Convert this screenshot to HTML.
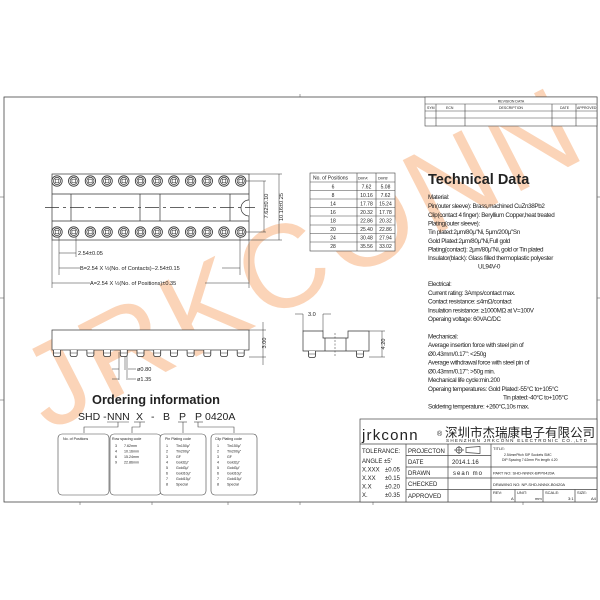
<!DOCTYPE html>
<html><head><meta charset="utf-8"><style>
html,body{margin:0;padding:0;background:#fff}
svg{display:block}
text{font-family:"Liberation Sans","Noto Sans CJK SC",sans-serif;fill:#222}
</style></head><body>
<svg width="600" height="600" viewBox="0 0 600 600" xmlns="http://www.w3.org/2000/svg">
<defs>
<g id="pin"><circle r="5.2" fill="#fff" stroke="#333" stroke-width="0.8"/><circle r="3.6" fill="none" stroke="#333" stroke-width="0.7"/><rect x="-1.8" y="-1.8" width="3.6" height="3.6" fill="none" stroke="#333" stroke-width="0.6"/></g>
<g id="leg"><path d="M-3.5 0 V4.5 Q-3.5 6.5 -1.5 6.5 H1.5 Q3.5 6.5 3.5 4.5 V0" fill="#fff" stroke="#333" stroke-width="0.8"/><line x1="-3.5" y1="3" x2="3.5" y2="3" stroke="#333" stroke-width="0.5"/></g>
</defs>
<!-- watermark -->
<text transform="translate(48,432) rotate(-27)" font-size="118" letter-spacing="6" style="fill:#fbd4b8">JRKCONN</text>
<!-- frame -->
<rect x="4" y="97" width="593" height="405" fill="none" stroke="#444" stroke-width="0.8"/>
<g stroke="#666" stroke-width="0.6">
<line x1="300" y1="94" x2="300" y2="97"/><line x1="80" y1="502" x2="80" y2="505"/><line x1="152" y1="502" x2="152" y2="505"/><line x1="228" y1="502" x2="228" y2="505"/><line x1="300" y1="502" x2="300" y2="505"/><line x1="373" y1="502" x2="373" y2="505"/><line x1="523" y1="502" x2="523" y2="505"/>
<line x1="0" y1="197" x2="4" y2="197"/><line x1="0" y1="298" x2="4" y2="298"/><line x1="0" y1="400" x2="4" y2="400"/><line x1="597" y1="197" x2="600" y2="197"/><line x1="597" y1="298" x2="600" y2="298"/><line x1="597" y1="400" x2="600" y2="400"/>
</g>
<!-- revision block -->
<g stroke="#444" stroke-width="0.6" fill="none">
<rect x="425" y="97" width="172" height="29" fill="#fff"/>
<line x1="425" y1="104" x2="597" y2="104"/><line x1="425" y1="111" x2="597" y2="111"/><line x1="425" y1="118" x2="597" y2="118"/>
<line x1="436" y1="104" x2="436" y2="126"/><line x1="465" y1="104" x2="465" y2="126"/><line x1="552" y1="104" x2="552" y2="126"/><line x1="576" y1="104" x2="576" y2="126"/>
</g>
<g font-size="3.5">
<text x="511" y="102.5" text-anchor="middle">REVISION  DATA</text>
<text x="427" y="109">SYM</text><text x="446" y="109">ECN</text><text x="511" y="109" text-anchor="middle">DESCRIPTION</text><text x="560" y="109">DATE</text><text x="577" y="109">APPROVED</text>
</g>
<!-- top view -->
<g stroke="#333" stroke-width="0.7" fill="none">
<rect x="52" y="174" width="197" height="66" fill="#fff"/>
<line x1="52" y1="194" x2="249" y2="194"/><line x1="52" y1="221" x2="249" y2="221"/>
<line x1="71" y1="194" x2="71" y2="221"/><line x1="140" y1="194" x2="140" y2="221"/><line x1="160" y1="194" x2="160" y2="221"/><line x1="230" y1="194" x2="230" y2="221"/>
<path d="M249 200 A8 8 0 0 0 249 216" fill="#fff"/>
<line x1="45" y1="207.5" x2="255" y2="207.5" stroke-dasharray="14 4 3 4"/>
<line x1="249" y1="174" x2="282" y2="174" stroke-width="0.5"/><line x1="249" y1="240" x2="282" y2="240" stroke-width="0.5"/>
<line x1="245" y1="181" x2="266" y2="181" stroke-width="0.5"/><line x1="245" y1="232" x2="266" y2="232" stroke-width="0.5"/>
<line x1="264" y1="181" x2="264" y2="232" stroke-width="0.5"/><line x1="279" y1="174" x2="279" y2="240" stroke-width="0.5"/>
<line x1="59" y1="232" x2="59" y2="275" stroke-width="0.5"/><line x1="76" y1="232" x2="76" y2="257" stroke-width="0.5"/><line x1="240" y1="232" x2="240" y2="275" stroke-width="0.5"/>
<line x1="52" y1="240" x2="52" y2="288" stroke-width="0.5"/><line x1="249" y1="240" x2="249" y2="288" stroke-width="0.5"/>
<line x1="59" y1="253" x2="76" y2="253" stroke-width="0.5"/>
<line x1="59" y1="268" x2="80" y2="268" stroke-width="0.5"/><line x1="222" y1="268" x2="240" y2="268" stroke-width="0.5"/>
<line x1="52" y1="283" x2="90" y2="283" stroke-width="0.5"/><line x1="205" y1="283" x2="249" y2="283" stroke-width="0.5"/>
</g>
<g>
<use href="#pin" x="57" y="181"/><use href="#pin" x="73.7" y="181"/><use href="#pin" x="90.4" y="181"/><use href="#pin" x="107.1" y="181"/><use href="#pin" x="123.8" y="181"/><use href="#pin" x="140.5" y="181"/><use href="#pin" x="157.2" y="181"/><use href="#pin" x="173.9" y="181"/><use href="#pin" x="190.6" y="181"/><use href="#pin" x="207.3" y="181"/><use href="#pin" x="224" y="181"/><use href="#pin" x="240.7" y="181"/>
<use href="#pin" x="57" y="232"/><use href="#pin" x="73.7" y="232"/><use href="#pin" x="90.4" y="232"/><use href="#pin" x="107.1" y="232"/><use href="#pin" x="123.8" y="232"/><use href="#pin" x="140.5" y="232"/><use href="#pin" x="157.2" y="232"/><use href="#pin" x="173.9" y="232"/><use href="#pin" x="190.6" y="232"/><use href="#pin" x="207.3" y="232"/><use href="#pin" x="224" y="232"/><use href="#pin" x="240.7" y="232"/>
</g>
<g font-size="5.6" font-family="Liberation Sans">
<text x="78" y="255">2.54±0.05</text>
<text x="80" y="270">B=2.54  X  ½(No.  of  Contacts)−2.54±0.15</text>
<text x="90" y="285">A=2.54  X  ½(No.  of  Positions)±0.35</text>
<text transform="translate(268,206) rotate(-90)" text-anchor="middle">7.62±0.10</text>
<text transform="translate(283,207) rotate(-90)" text-anchor="middle">10.16±0.25</text>
</g>
<!-- dim table -->
<g stroke="#444" stroke-width="0.6" fill="none">
<rect x="310" y="173" width="85" height="78" fill="#fff"/>
<line x1="357" y1="173" x2="357" y2="251"/><line x1="376" y1="173" x2="376" y2="251"/>
<line x1="310" y1="182" x2="395" y2="182"/><line x1="310" y1="190.5" x2="395" y2="190.5"/><line x1="310" y1="199" x2="395" y2="199"/><line x1="310" y1="207.5" x2="395" y2="207.5"/><line x1="310" y1="216" x2="395" y2="216"/><line x1="310" y1="225" x2="395" y2="225"/><line x1="310" y1="233.5" x2="395" y2="233.5"/><line x1="310" y1="242" x2="395" y2="242"/>
</g>
<g font-size="5">
<text x="313" y="179.5">No. of Positions</text><text x="358" y="179.5" font-size="3.5">DIM'A'</text><text x="378" y="179.5" font-size="3.5">DIM'B'</text>
<g text-anchor="middle">
<text x="333" y="188.5">6</text><text x="366.5" y="188.5">7.62</text><text x="385.5" y="188.5">5.08</text>
<text x="333" y="197">8</text><text x="366.5" y="197">10.16</text><text x="385.5" y="197">7.62</text>
<text x="333" y="205.5">14</text><text x="366.5" y="205.5">17.78</text><text x="385.5" y="205.5">15.24</text>
<text x="333" y="214">16</text><text x="366.5" y="214">20.32</text><text x="385.5" y="214">17.78</text>
<text x="333" y="222.5">18</text><text x="366.5" y="222.5">22.86</text><text x="385.5" y="222.5">20.32</text>
<text x="333" y="231">20</text><text x="366.5" y="231">25.40</text><text x="385.5" y="231">22.86</text>
<text x="333" y="239.5">24</text><text x="366.5" y="239.5">30.48</text><text x="385.5" y="239.5">27.94</text>
<text x="333" y="248">28</text><text x="366.5" y="248">35.56</text><text x="385.5" y="248">33.02</text>
</g></g>
<!-- technical data -->
<text x="428" y="184" font-size="14.5" font-weight="bold" fill="#111">Technical Data</text>
<g font-size="6.3" letter-spacing="-0.35">
<text x="428" y="199">Material:</text>
<text x="428" y="208">Pin(outer sleeve): Brass,machined CuZn38Pb2</text>
<text x="428" y="217">Clip(contact 4 finger): Beryllium Copper,heat treated</text>
<text x="428" y="225.5">Plating(outer sleeve):</text>
<text x="428" y="234">Tin plated:2μm/80μ"Ni, 5μm/200μ"Sn</text>
<text x="428" y="243">Gold Plated:2μm/80μ"Ni,Full gold</text>
<text x="428" y="251.5">Plating(contact): 2μm/80μ"Ni, gold or Tin plated</text>
<text x="428" y="260">Insulator(black): Glass filled thermoplastic polyester</text>
<text x="478" y="268.5">UL94V-0</text>
<text x="428" y="286">Electrical:</text>
<text x="428" y="295">Current rating: 3Amps/contact max.</text>
<text x="428" y="303.5">Contact resistance: ≤4mΩ/contact</text>
<text x="428" y="312.5">Insulation resistance: ≥1000MΩ at V=100V</text>
<text x="428" y="321">Operaing voltage: 60VAC/DC</text>
<text x="428" y="338.5">Mechanical:</text>
<text x="428" y="347">Average insertion force with steel pin of</text>
<text x="428" y="356">Ø0.43mm/0.17": &lt;250g</text>
<text x="428" y="364.5">Average withdrawal force with steel pin of</text>
<text x="428" y="373.5">Ø0.43mm/0.17": &gt;50g min.</text>
<text x="428" y="382">Mechanical life cycle:min.200</text>
<text x="428" y="391">Operaing temperatures: Gold Plated:-55°C to+105°C</text>
<text x="503" y="399.5">Tin plated:-40°C to+105°C</text>
<text x="428" y="408.5">Soldering temperature: +260°C,10s max.</text>
</g>
<!-- side view -->
<g stroke="#333" stroke-width="0.7" fill="none">
<rect x="52" y="330" width="197" height="20" fill="#fff"/>
<line x1="249" y1="330" x2="266" y2="330" stroke-width="0.5"/><line x1="249" y1="357" x2="266" y2="357" stroke-width="0.5"/>
<line x1="263" y1="322" x2="263" y2="365" stroke-width="0.5"/>
<line x1="119" y1="352" x2="119" y2="380" stroke-width="0.5"/><line x1="125" y1="352" x2="125" y2="370" stroke-width="0.5"/><line x1="127" y1="352" x2="127" y2="380" stroke-width="0.5"/>
<line x1="112" y1="369" x2="119" y2="369" stroke-width="0.5"/><line x1="128" y1="369" x2="136" y2="369" stroke-width="0.5"/>
<line x1="112" y1="379" x2="119" y2="379" stroke-width="0.5"/><line x1="128" y1="379" x2="136" y2="379" stroke-width="0.5"/>
</g>
<g>
<use href="#leg" x="57" y="350"/><use href="#leg" x="73.7" y="350"/><use href="#leg" x="90.4" y="350"/><use href="#leg" x="107.1" y="350"/><use href="#leg" x="123.8" y="350"/><use href="#leg" x="140.5" y="350"/><use href="#leg" x="157.2" y="350"/><use href="#leg" x="173.9" y="350"/><use href="#leg" x="190.6" y="350"/><use href="#leg" x="207.3" y="350"/><use href="#leg" x="224" y="350"/><use href="#leg" x="240.7" y="350"/>
</g>
<g font-size="5.6">
<text transform="translate(266,343) rotate(-90)" text-anchor="middle">3.00</text>
<text x="137" y="371">ø0.80</text>
<text x="137" y="381">ø1.35</text>
</g>
<!-- end view -->
<g stroke="#333" stroke-width="0.7" fill="none">
<path d="M303 331 H323 V338 H348 V331 H369 V351 H303 Z" fill="#fff"/>
<line x1="325" y1="338" x2="325" y2="351"/><line x1="346" y1="338" x2="346" y2="351"/>
<line x1="335" y1="333" x2="335" y2="357" stroke-dasharray="2 1.5" stroke-width="0.5"/>
<line x1="303" y1="314" x2="303" y2="331" stroke-width="0.5"/><line x1="323" y1="314" x2="323" y2="331" stroke-width="0.5"/>
<line x1="295" y1="314" x2="303" y2="314" stroke-width="0.5"/><line x1="323" y1="314" x2="331" y2="314" stroke-width="0.5"/>
<line x1="369" y1="331" x2="385" y2="331" stroke-width="0.5"/><line x1="369" y1="357" x2="385" y2="357" stroke-width="0.5"/>
<line x1="382" y1="331" x2="382" y2="357" stroke-width="0.5"/>
</g>
<use href="#leg" x="312" y="351"/><use href="#leg" x="360" y="351"/>
<g font-size="5.6">
<text x="308" y="316">3.0</text>
<text transform="translate(385,344) rotate(-90)" text-anchor="middle">4.20</text>
</g>
<!-- ordering -->
<text x="92" y="404" font-size="12.8" font-weight="bold" fill="#111">Ordering information</text>
<g font-size="10.5">
<text x="78" y="420">SHD -</text><text x="107" y="420">NNN</text><text x="136" y="420">X</text><text x="151" y="420">-</text><text x="163" y="420">B</text><text x="179" y="420">P</text><text x="195" y="420">P</text><text x="205" y="420">0420A</text>
</g>
<g stroke="#444" stroke-width="0.6" fill="none">
<line x1="107" y1="422" x2="129" y2="422"/><line x1="134" y1="422" x2="145" y2="422"/><line x1="178" y1="422" x2="187" y2="422"/><line x1="194" y1="422" x2="203" y2="422"/>
<path d="M118 422 V427 H84 V433"/><path d="M140 422 V427 H132 V433"/><path d="M183 422 V433"/><path d="M198 422 V427 H234 V433"/>
<rect x="58" y="434" width="51" height="61" rx="4" fill="#fff"/><rect x="110" y="434" width="51" height="61" rx="4" fill="#fff"/><rect x="160" y="434" width="46" height="61" rx="4" fill="#fff"/><rect x="211" y="434" width="46" height="61" rx="4" fill="#fff"/>
</g>
<g font-size="3.6">
<text x="63" y="440">No. of Positions</text>
<text x="112" y="440">Row spacing code</text>
<text x="115" y="447">3</text><text x="124" y="447">7.62mm</text>
<text x="115" y="452.5">4</text><text x="124" y="452.5">10.16mm</text>
<text x="115" y="458">6</text><text x="124" y="458">15.24mm</text>
<text x="115" y="463.5">9</text><text x="124" y="463.5">22.86mm</text>
<text x="165" y="440">Pin Plating code</text>
<text x="215" y="440">Clip Plating code</text>
<g>
<text x="166" y="447">1</text><text x="176" y="447">Tin150μ"</text>
<text x="166" y="452.5">2</text><text x="176" y="452.5">Tin200μ"</text>
<text x="166" y="458">3</text><text x="176" y="458">GF</text>
<text x="166" y="463.5">4</text><text x="176" y="463.5">Gold2μ"</text>
<text x="166" y="469">5</text><text x="176" y="469">Gold3μ"</text>
<text x="166" y="474.5">6</text><text x="176" y="474.5">Gold10μ"</text>
<text x="166" y="480">7</text><text x="176" y="480">Gold15μ"</text>
<text x="166" y="485.5">8</text><text x="176" y="485.5">Special</text>
<text x="217" y="447">1</text><text x="227" y="447">Tin150μ"</text>
<text x="217" y="452.5">2</text><text x="227" y="452.5">Tin200μ"</text>
<text x="217" y="458">3</text><text x="227" y="458">GF</text>
<text x="217" y="463.5">4</text><text x="227" y="463.5">Gold2μ"</text>
<text x="217" y="469">5</text><text x="227" y="469">Gold3μ"</text>
<text x="217" y="474.5">6</text><text x="227" y="474.5">Gold10μ"</text>
<text x="217" y="480">7</text><text x="227" y="480">Gold15μ"</text>
<text x="217" y="485.5">8</text><text x="227" y="485.5">Special</text>
</g></g>
<!-- title block -->
<g stroke="#444" stroke-width="0.7" fill="none">
<rect x="360" y="419" width="237" height="83" fill="#fff"/>
<line x1="360" y1="444" x2="597" y2="444"/>
<line x1="406" y1="455.5" x2="491" y2="455.5"/><line x1="406" y1="467" x2="597" y2="467"/><line x1="406" y1="478" x2="597" y2="478"/><line x1="406" y1="489.5" x2="597" y2="489.5"/>
<line x1="406" y1="444" x2="406" y2="502"/><line x1="448" y1="444" x2="448" y2="502"/><line x1="491" y1="444" x2="491" y2="502"/>
<line x1="515" y1="489.5" x2="515" y2="502"/><line x1="543" y1="489.5" x2="543" y2="502"/><line x1="575" y1="489.5" x2="575" y2="502"/>
<circle cx="459" cy="450" r="3"/><line x1="454" y1="450" x2="464" y2="450"/><line x1="459" y1="446" x2="459" y2="454"/><path d="M466 447.5 L480 446.5 V453.5 L466 452.5 Z"/>
</g>
<text x="362" y="440" font-size="15" letter-spacing="1.2" fill="#222">jrkconn</text>
<text x="437" y="436" font-size="7" fill="#222">®</text>
<text x="445" y="437" font-size="12.5" font-family="'Noto Serif CJK SC','Noto Sans CJK SC',serif" fill="#444">深圳市杰瑞康电子有限公司</text>
<text x="446" y="442" font-size="4.6" font-family="'Liberation Serif',serif" fill="#444" textLength="141">SHENZHEN JRKCONN ELECTRONIC CO.,LTD</text>
<g font-size="6">
<text x="362" y="453">TOLERANCE:</text>
<text x="362" y="463">ANGLE  ±5'</text>
<text x="362" y="471.5">X.XXX</text><text x="385" y="471.5">±0.05</text>
<text x="362" y="480">X.XX</text><text x="385" y="480">±0.15</text>
<text x="362" y="488.5">X.X</text><text x="385" y="488.5">±0.20</text>
<text x="362" y="497">X.</text><text x="385" y="497">±0.35</text>
<text x="408" y="453">PROJECTON</text>
<text x="408" y="464">DATE</text><text x="452" y="464">2014.1.16</text>
<text x="408" y="475">DRAWN</text><text x="453" y="475" letter-spacing="1">sean  mo</text>
<text x="408" y="486">CHECKED</text>
<text x="408" y="498">APPROVED</text>
</g>
<g font-size="4">
<text x="493" y="450">TITLE:</text>
<text x="504" y="456" font-size="3.4">2.54mmPitch SIP Sockets SMC</text>
<text x="502" y="461" font-size="3.4">DIP Spacing 7.62mm Pin length 4.20</text>
<text x="493" y="474.5">PART  NO:  SHD-NNNX-BPP0420A</text>
<text x="493" y="486">DRAWING  NO:  NP-SHD-NNNX-B0420A</text>
<text x="493" y="494">REV:</text><text x="511" y="500">A</text>
<text x="517" y="494">UNIT:</text><text x="535" y="500">mm</text>
<text x="545" y="494">SCALE:</text><text x="568" y="500">3:1</text>
<text x="577" y="494">SIZE:</text><text x="591" y="500">A4</text>
</g>
</svg>
</body></html>
